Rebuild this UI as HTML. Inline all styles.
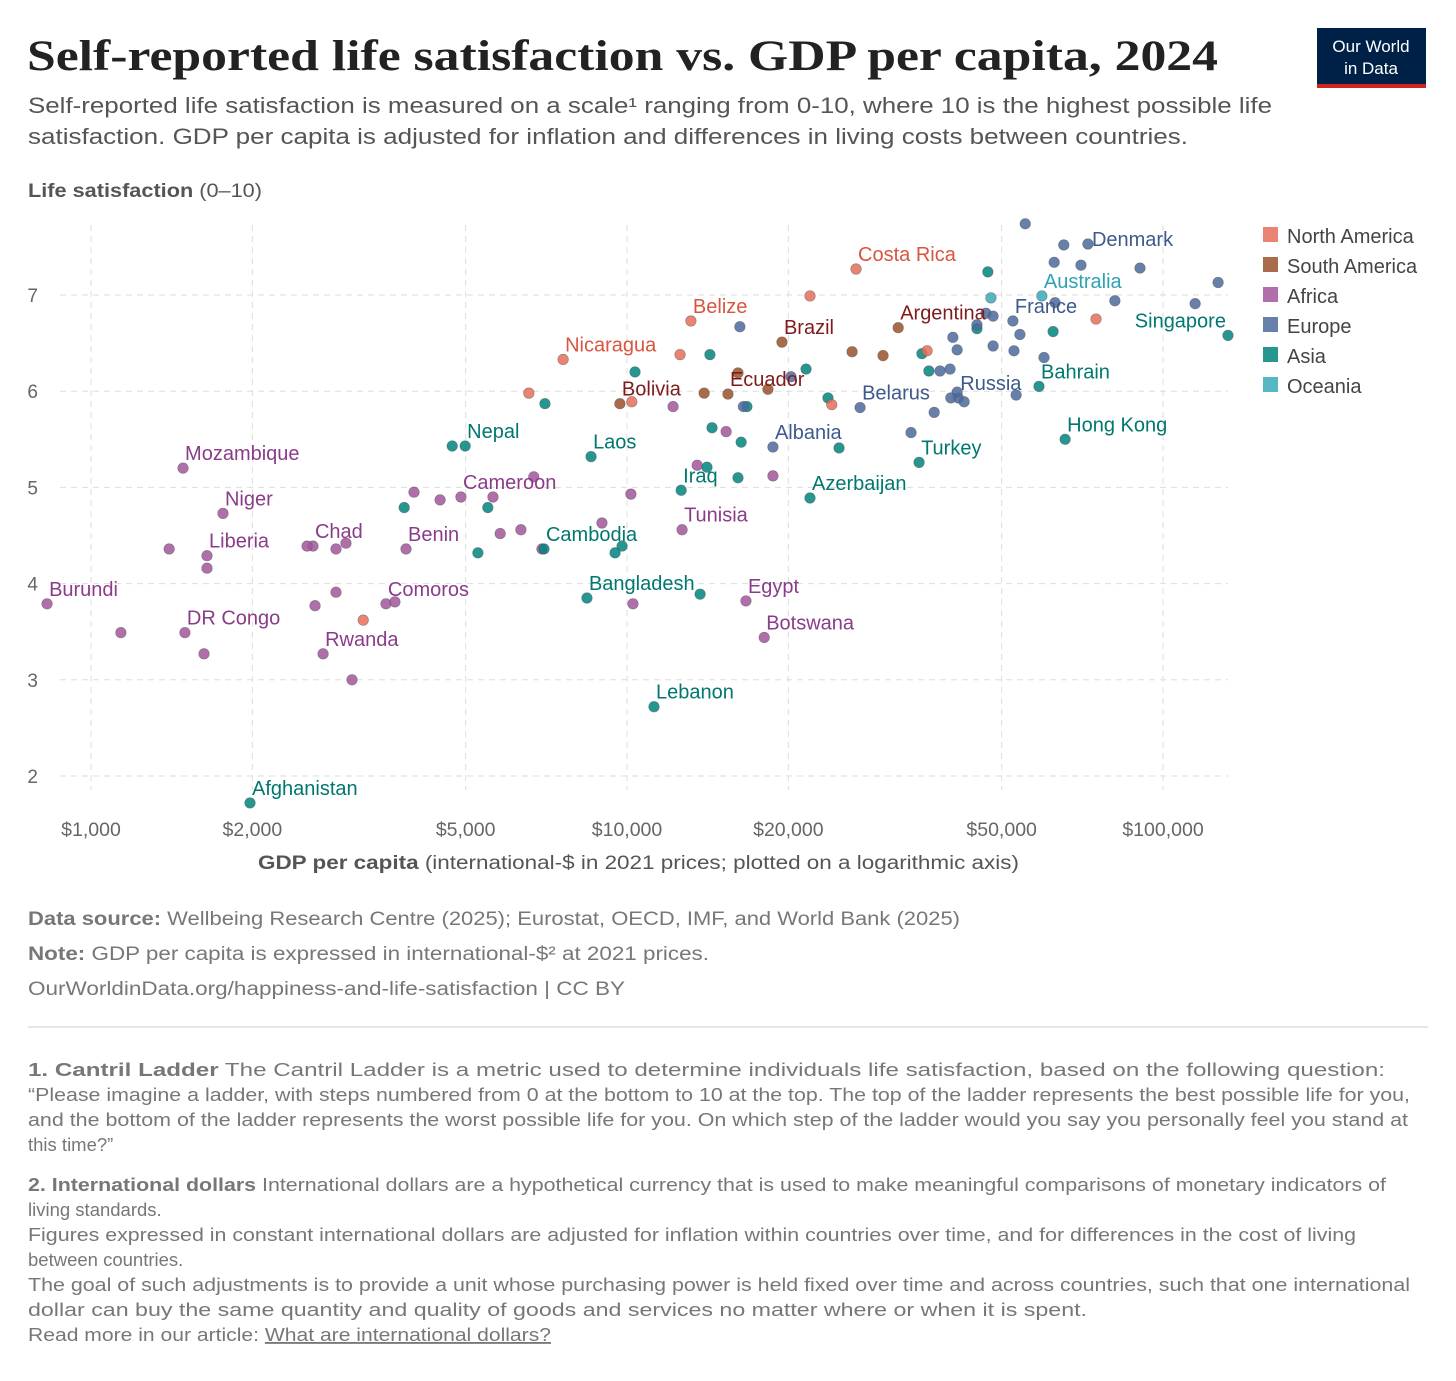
<!DOCTYPE html>
<html><head><meta charset="utf-8">
<style>
body{margin:0;background:#fff;}
svg text{font-family:"Liberation Sans",sans-serif;}
</style></head>
<body>
<svg id="chart" width="1456" height="1376" viewBox="0 0 1456 1376" xmlns="http://www.w3.org/2000/svg">
<text x="27" y="70" textLength="1191" lengthAdjust="spacingAndGlyphs" style="font-family:'Liberation Serif',serif;font-weight:bold;font-size:43px;fill:#222">Self-reported life satisfaction vs. GDP per capita, 2024</text>
<g font-size="22" fill="#555">
<text x="28" y="113" textLength="1244" lengthAdjust="spacingAndGlyphs">Self-reported life satisfaction is measured on a scale¹ ranging from 0-10, where 10 is the highest possible life</text>
<text x="28" y="144" textLength="1160" lengthAdjust="spacingAndGlyphs">satisfaction. GDP per capita is adjusted for inflation and differences in living costs between countries.</text></g>
<g><rect x="1317" y="28" width="109" height="60" fill="#002147"/><rect x="1317" y="84" width="109" height="4" fill="#ce261e"/>
<text x="1371" y="52" font-size="17" fill="#fff" text-anchor="middle">Our World</text><text x="1371" y="74" font-size="17" fill="#fff" text-anchor="middle">in Data</text></g>
<text x="28" y="197" font-size="19" fill="#555" textLength="234" lengthAdjust="spacingAndGlyphs"><tspan font-weight="bold">Life satisfaction</tspan> (0–10)</text>
<g id="grid"></g>
<g id="points"></g>
<g id="labels"></g>
<g id="legend"></g>
<text x="258" y="869" font-size="19" fill="#555" textLength="761" lengthAdjust="spacingAndGlyphs"><tspan font-weight="bold">GDP per capita</tspan> (international-$ in 2021 prices; plotted on a logarithmic axis)</text>
<g font-size="19" fill="#777">
<text x="28" y="925" textLength="932" lengthAdjust="spacingAndGlyphs"><tspan font-weight="bold">Data source:</tspan> Wellbeing Research Centre (2025); Eurostat, OECD, IMF, and World Bank (2025)</text>
<text x="28" y="960" textLength="681" lengthAdjust="spacingAndGlyphs"><tspan font-weight="bold">Note:</tspan> GDP per capita is expressed in international-$² at 2021 prices.</text>
<text x="28" y="995" textLength="597" lengthAdjust="spacingAndGlyphs">OurWorldinData.org/happiness-and-life-satisfaction | CC BY</text>
</g>
<line x1="28" y1="1027" x2="1428" y2="1027" stroke="#ddd" stroke-width="1.5"/>
<g font-size="18.5" fill="#777">
<text x="28" y="1076" textLength="1357" lengthAdjust="spacingAndGlyphs"><tspan font-weight="bold">1. Cantril Ladder</tspan> The Cantril Ladder is a metric used to determine individuals life satisfaction, based on the following question:</text>
<text x="28" y="1101" textLength="1382" lengthAdjust="spacingAndGlyphs">“Please imagine a ladder, with steps numbered from 0 at the bottom to 10 at the top. The top of the ladder represents the best possible life for you,</text>
<text x="28" y="1126" textLength="1380" lengthAdjust="spacingAndGlyphs">and the bottom of the ladder represents the worst possible life for you. On which step of the ladder would you say you personally feel you stand at</text>
<text x="28" y="1151">this time?”</text>
<text x="28" y="1191" textLength="1358" lengthAdjust="spacingAndGlyphs"><tspan font-weight="bold">2. International dollars</tspan> International dollars are a hypothetical currency that is used to make meaningful comparisons of monetary indicators of</text>
<text x="28" y="1216">living standards.</text>
<text x="28" y="1241" textLength="1328" lengthAdjust="spacingAndGlyphs">Figures expressed in constant international dollars are adjusted for inflation within countries over time, and for differences in the cost of living</text>
<text x="28" y="1266">between countries.</text>
<text x="28" y="1291" textLength="1382" lengthAdjust="spacingAndGlyphs">The goal of such adjustments is to provide a unit whose purchasing power is held fixed over time and across countries, such that one international</text>
<text x="28" y="1316" textLength="1059" lengthAdjust="spacingAndGlyphs">dollar can buy the same quantity and quality of goods and services no matter where or when it is spent.</text>
<text x="28" y="1341" textLength="523" lengthAdjust="spacingAndGlyphs">Read more in our article: <tspan text-decoration="underline">What are international dollars?</tspan></text>
</g>
</svg>
<script>
const regions=["North America","South America","Africa","Europe","Asia","Oceania"];
const regionColors=["#e56e5a","#9a5129","#a2559c","#4c6a9c","#00847e","#38aaba"];
const labelColors=["#d9553f","#7f1b1b","#8a3c89","#3d5a8c","#00776f","#2fa3b3"];
const xTicks=[1000,2000,5000,10000,20000,50000,100000];
const xTickLabels=["$1,000","$2,000","$5,000","$10,000","$20,000","$50,000","$100,000"];
const yTicks=[2,3,4,5,6,7];
const gdp=[828,1485,1763,1646,1497,2595,3870,4900,3550,2710,12670,16670,18030,1399,1137,1646,1625,3069,2618,2865,3690,4005,4480,5623,5800,6340,6700,6940,8980,10170,10260,12190,13520,15310,18720,2865,2990,2530,
1980,4990,8570,7000,8420,12620,11230,21950,35070,65680,132200,58700,4720,3840,5270,5500,7030,9500,9790,10350,13690,14280,14100,14410,16110,16330,16740,21580,23710,24870,35500,36580,44970,47120,62370,
72440,52480,27220,41500,18720,55340,65300,62660,70300,90600,126700,114800,81330,62900,46740,48200,54080,59980,44970,40550,41300,48200,52720,40060,38370,41300,42560,40190,37420,33880,53210,20230,16240,16490,
26750,13160,7600,21950,6560,10210,12560,24100,36300,75000,3220,
19460,32060,15430,9700,26300,30040,13930,18320,16110,
59430,47750];
const lifeSat=[3.79,5.20,4.73,4.29,3.49,4.39,4.36,4.90,3.79,3.27,4.56,3.82,3.44,4.36,3.49,4.16,3.27,3.00,3.77,3.91,3.81,4.95,4.87,4.90,4.52,4.56,5.11,4.36,4.63,4.93,3.79,5.84,5.23,5.58,5.12,4.36,4.42,4.39,
1.72,5.43,5.32,4.36,3.85,4.97,2.72,4.89,5.26,5.50,6.58,6.05,5.43,4.79,4.32,4.79,5.87,4.32,4.39,6.20,3.89,6.38,5.21,5.62,5.10,5.47,5.84,6.23,5.93,5.41,6.39,6.21,6.65,7.24,6.62,
7.53,6.73,5.83,5.93,5.42,7.74,7.52,7.34,7.31,7.28,7.13,6.91,6.94,6.92,6.81,6.78,6.59,6.35,6.69,6.56,6.43,6.47,6.42,6.23,6.21,5.99,5.89,5.93,5.78,5.57,5.96,6.15,6.67,5.84,
7.27,6.73,6.33,6.99,5.98,5.89,6.38,5.86,6.42,6.75,3.62,
6.51,6.66,5.97,5.87,6.41,6.37,5.98,6.02,6.19,
6.99,6.97];
const regionIdx=[].concat(Array(38).fill(2),Array(35).fill(4),Array(34).fill(3),Array(11).fill(0),Array(9).fill(1),Array(2).fill(5));
const labelNames={0:"Burundi",1:"Mozambique",2:"Niger",3:"Liberia",4:"DR Congo",5:"Chad",6:"Benin",7:"Cameroon",8:"Comoros",9:"Rwanda",10:"Tunisia",11:"Egypt",12:"Botswana",
38:"Afghanistan",39:"Nepal",40:"Laos",41:"Cambodia",42:"Bangladesh",43:"Iraq",44:"Lebanon",45:"Azerbaijan",46:"Turkey",47:"Hong Kong",48:"Singapore",49:"Bahrain",
73:"Denmark",74:"France",75:"Belarus",76:"Russia",77:"Albania",
107:"Costa Rica",108:"Belize",109:"Nicaragua",118:"Brazil",119:"Argentina",120:"Ecuador",121:"Bolivia",127:"Australia"};

const NS="http://www.w3.org/2000/svg";
const X0=91,DEC=536,Y7=295,YU=96.2;
const xs=v=>X0+(Math.log10(v)-3)*DEC;
const ys=v=>Y7+(7-v)*YU;
function mk(tag,attrs,parent){const e=document.createElementNS(NS,tag);for(const k in attrs)e.setAttribute(k,attrs[k]);parent.appendChild(e);return e;}
const grid=document.getElementById('grid');
xTicks.forEach((t,i)=>{
  const l=mk('line',{x1:xs(t),x2:xs(t),y1:225,y2:790,stroke:'#ddd','stroke-dasharray':'6,5'},grid);
  
  
  const tx=mk('text',{x:xs(t),y:836,'font-size':19.5,fill:'#666','text-anchor':'middle'},grid);
  tx.textContent=xTickLabels[i];
  
  
});
yTicks.forEach(t=>{
  const l=mk('line',{x1:60,x2:1228,y1:ys(t),y2:ys(t),stroke:'#ddd','stroke-dasharray':'6,5'},grid);
  
  
  const tx=mk('text',{x:38,y:ys(t)+7,'font-size':19,fill:'#666','text-anchor':'end'},grid);
  tx.textContent=t;
  
  
});
const pts=document.getElementById('points');
gdp.forEach((g,i)=>{
  const c=mk('circle',{cx:xs(g),cy:ys(lifeSat[i]),r:5.3,fill:regionColors[regionIdx[i]],'fill-opacity':0.85,stroke:'#555','stroke-width':0.6,'stroke-opacity':0.6},pts);
  
  
});
const lab=document.getElementById('labels');
for(const k in labelNames){
  const i=+k,name=labelNames[k];
  const right=name==="Singapore";
  const t=mk('text',{x:right?xs(gdp[i])-2:xs(gdp[i])+2,y:ys(lifeSat[i])-(name==="Denmark"?-2:8),'font-size':20,fill:labelColors[regionIdx[i]],'text-anchor':right?'end':'start'},lab);
  if(name==="Denmark")t.setAttribute('x',xs(gdp[i])+4);
  t.textContent=name;
  
  
}
const leg=document.getElementById('legend');
regions.forEach((r,i)=>{
  const s=mk('rect',{x:1263,y:227+i*30,width:15,height:15,fill:regionColors[i],'fill-opacity':0.85},leg);
  
  
  const t=mk('text',{x:1287,y:243+i*30,'font-size':20,fill:'#444'},leg);
  t.textContent=r;
  
  
});
</script>
</body></html>
